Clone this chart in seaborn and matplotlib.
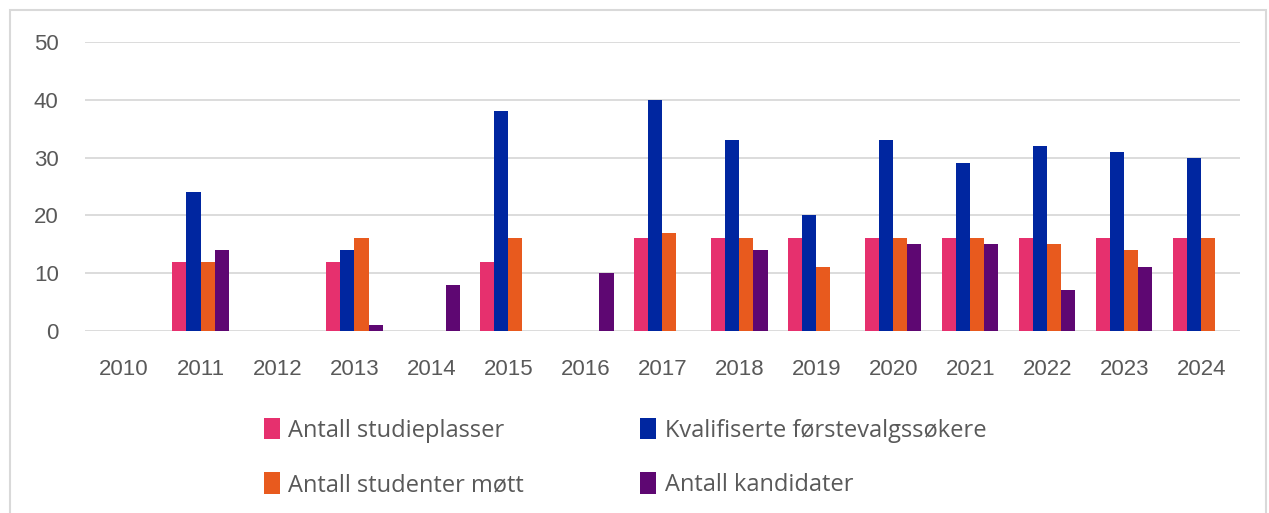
import numpy as np
import pandas as pd
import matplotlib
matplotlib.use("Agg")
import matplotlib.pyplot as plt
import seaborn as sns
from matplotlib.patches import Rectangle

years = ["2010", "2011", "2012", "2013", "2014", "2015", "2016", "2017",
         "2018", "2019", "2020", "2021", "2022", "2023", "2024"]
series_names = ["Antall studieplasser", "Kvalifiserte førstevalgssøkere",
                "Antall studenter møtt", "Antall kandidater"]
studieplasser = [np.nan, 12, np.nan, 12, np.nan, 12, np.nan, 16, 16, 16, 16, 16, 16, 16, 16]
kvalifiserte = [np.nan, 24, np.nan, 14, np.nan, 38, np.nan, 40, 33, 20, 33, 29, 32, 31, 30]
mott = [np.nan, 12, np.nan, 16, np.nan, 16, np.nan, 17, 16, 11, 16, 16, 15, 14, 16]
kandidater = [np.nan, 14, np.nan, 1, 8, np.nan, 10, np.nan, 14, np.nan, 15, 15, 7, 11, np.nan]
colors = ["#E6306E", "#0026A0", "#E85A1E", "#5E0772"]
yticks = [0, 10, 20, 30, 40, 50]

sns.set_theme(style="white")
plt.rcParams['font.family'] = ['Liberation Sans', 'DejaVu Sans']

rows = []
for name, vals in zip(series_names, [studieplasser, kvalifiserte, mott, kandidater]):
    for y, v in zip(years, vals):
        rows.append({"År": y, "Serie": name, "Verdi": v})
df = pd.DataFrame(rows)

fig = plt.figure(figsize=(12.69, 5.13), dpi=100)
ax = fig.add_axes([0.067, 0.355, 0.910, 0.563])

sns.barplot(data=df, x="År", y="Verdi", hue="Serie", hue_order=series_names,
            order=years, palette=colors, saturation=1, width=0.73, gap=0,
            linewidth=0, ax=ax, zorder=3, legend=True)

ax.set_ylim(0, 50)
ax.set_xlim(-0.5, len(years) - 0.5)
ax.set_yticks(yticks)
ax.set_yticklabels([str(t) for t in yticks])
ax.yaxis.grid(True, color="#d9d9d9", linewidth=1.3)
ax.set_axisbelow(True)
for s in ax.spines.values():
    s.set_visible(False)
ax.set_xlabel("")
ax.set_ylabel("")
ax.tick_params(axis="both", length=0, labelsize=16, colors="#595959")
ax.tick_params(axis="y", pad=19)
ax.tick_params(axis="x", pad=20)

handles, labels = ax.get_legend_handles_labels()
ax.get_legend().remove()
order = [0, 2, 1, 3]
fig.legend([handles[i] for i in order], [labels[i] for i in order],
           loc="upper left", bbox_to_anchor=(0.191, 0.226),
           ncol=2, frameon=False, labelcolor="#595959",
           prop={"family": ["Open Sans", "DejaVu Sans"], "size": 17},
           handlelength=0.7, handleheight=1.0, handletextpad=0.35,
           columnspacing=4.9, labelspacing=1.25)

fig.patches.append(Rectangle((10 / 1269, -0.05), 1256 / 1269, 1 - 10 / 513 + 0.05,
                             transform=fig.transFigure, fill=False,
                             edgecolor="#d9d9d9", linewidth=1.5))

fig.savefig("out.png", dpi=100, facecolor="white")
